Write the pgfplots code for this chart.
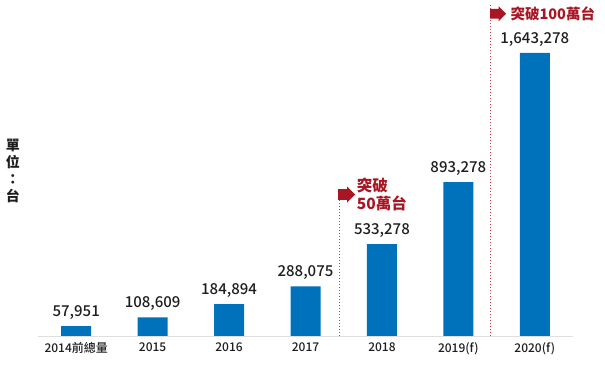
\documentclass[border=0pt]{standalone}
\usepackage{pgfplots}
\pgfplotsset{compat=1.18}
\usepackage{fontspec}
\setmainfont{Noto Sans CJK TC}
\newfontfamily\medfont{Noto Sans CJK TC Medium}
\usetikzlibrary{shapes.arrows}
\definecolor{barblue}{RGB}{0,114,188}
\definecolor{darkred}{RGB}{168,22,36}
\definecolor{dotred}{RGB}{205,60,80}
\definecolor{txt}{RGB}{30,30,30}
\begin{document}
\begin{tikzpicture}
\useasboundingbox (-38pt,-38pt) rectangle (567pt,336pt);
\begin{axis}[
  at={(0,0)}, anchor=south west,
  scale only axis,
  width=535pt, height=336pt,
  xmin=-0.5, xmax=6.5,
  ymin=0, ymax=1950000,
  axis y line=none,
  axis x line*=bottom,
  x axis line style={draw=gray!25, line width=0.8pt},
  xtick=data,
  xticklabels={2014前總量,2015,2016,2017,2018,2019(f),2020(f)},
  x tick label style={font=\fontsize{12}{12}\selectfont\medfont, text=txt, yshift=-3pt},
  major tick length=0pt,
  ybar, bar width=30pt,
  nodes near coords={\pgfmathprintnumber[fixed, 1000 sep={,}, precision=0, assume math mode=true]{\pgfplotspointmeta}},
  nodes near coords style={font=\fontsize{15}{15}\selectfont\medfont, text=txt, yshift=3pt},
  point meta=explicit,
  clip=false,
]
\addplot[fill=barblue, draw=none] coordinates {
  (0,57951) [57951]
  (1,108609) [108609]
  (2,184894) [184894]
  (3,288075) [288075]
  (4,533278) [533278]
  (5,893278) [893278]
  (6,1643278) [1643278]
};
% annotations
\draw[dotred, dotted, line width=1pt] (axis cs:3.44,0) -- (axis cs:3.44,798000);
\draw[dotred, dotted, line width=1pt] (axis cs:5.427,0) -- (axis cs:5.427,1920000);
\node[single arrow, fill=darkred, draw=none, minimum height=17pt, minimum width=16pt,
      single arrow head extend=1.5pt, inner sep=3pt, anchor=west] at (axis cs:3.425,821000) {};
\node[single arrow, fill=darkred, draw=none, minimum height=16pt, minimum width=15pt,
      single arrow head extend=1.5pt, inner sep=2.5pt, anchor=west] at (axis cs:5.412,1870000) {};
\node[anchor=west, align=left, text=darkred, font=\fontsize{15.5}{18}\selectfont\bfseries, inner sep=0pt]
  at (axis cs:3.67,820000) {突破\\50萬台};
\node[anchor=west, text=darkred, font=\fontsize{14.5}{15}\selectfont\bfseries, inner sep=0pt]
  at (axis cs:5.68,1870000) {突破100萬台};
\end{axis}
\node[align=center, font=\fontsize{14}{17}\selectfont\bfseries, text=txt, inner sep=0pt]
  at (-25pt,165pt) {單\\位\\：\\台};
\end{tikzpicture}
\end{document}
